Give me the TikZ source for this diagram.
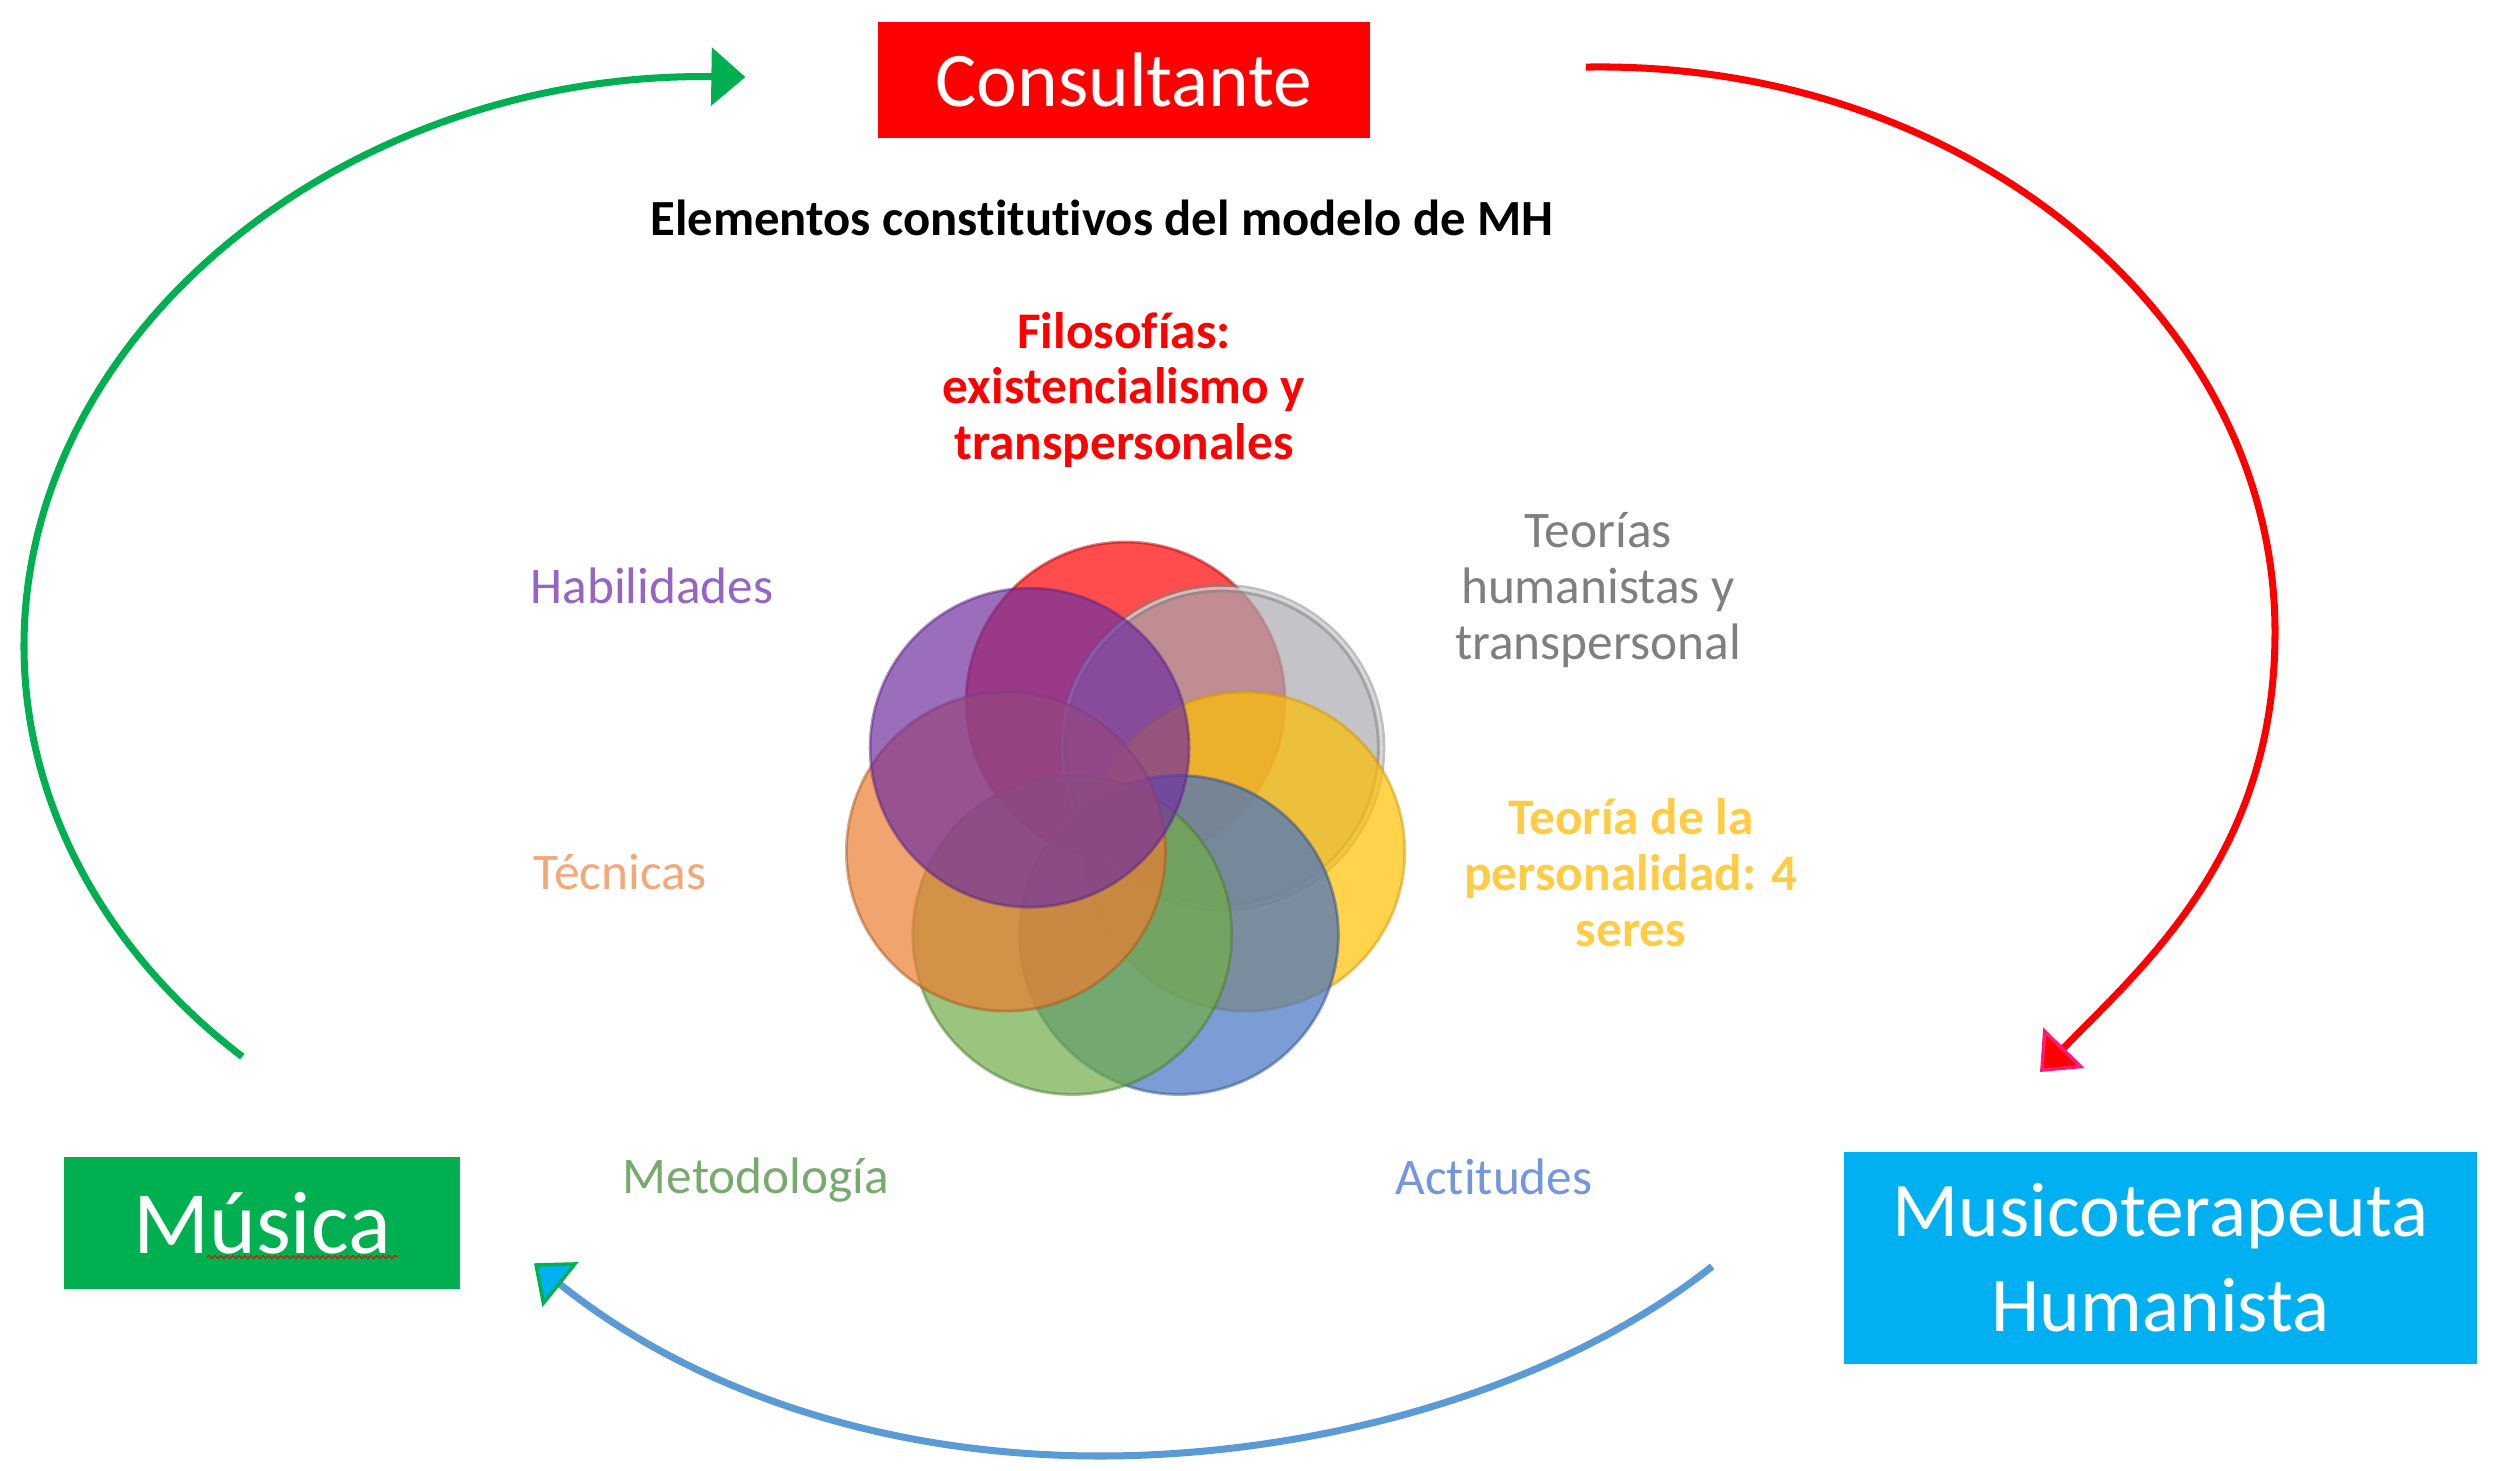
\documentclass[tikz,border=0pt]{standalone}
\usepackage{fontspec}
\setmainfont{Carlito}[Ligatures=NoCommon]
\usetikzlibrary{arrows.meta,decorations.pathmorphing}
\definecolor{cRed}{HTML}{FF0000}
\definecolor{cGreenBox}{HTML}{00B050}
\definecolor{cCyan}{HTML}{00B0F0}
\definecolor{cBlueLine}{HTML}{5B9BD5}
\definecolor{cPink}{HTML}{FF1A75}
\definecolor{dRed}{HTML}{FF0000}
\definecolor{dGray}{HTML}{A9A9B0}
\definecolor{dYellow}{HTML}{FFC000}
\definecolor{dBlue}{HTML}{4472C4}
\definecolor{dGreen}{HTML}{70AD47}
\definecolor{dOrange}{HTML}{ED7D31}
\definecolor{dPurple}{HTML}{7030A0}
\definecolor{tGray}{HTML}{7F7F7F}
\definecolor{tYellow}{HTML}{FFCC45}
\definecolor{tPurple}{HTML}{9565C5}
\definecolor{tOrange}{HTML}{F4A878}
\definecolor{tGreen}{HTML}{78AA6E}
\definecolor{tBlue}{HTML}{7396DC}
\tikzset{
  box/.style={rectangle, inner sep=0pt, text=white, align=center,
    font=\fontsize{22}{27}\selectfont},
  disc/.style={circle, inner sep=0pt, minimum size=3.188cm,
    fill opacity=0.7, draw opacity=0.5, line width=0.8pt},
  lbl/.style={inner sep=0pt, align=center, font=\fontsize{14.6}{15.9}\selectfont},
  conn/.style={line width=2pt},
}
\begin{document}
\begin{tikzpicture}[x=0.01cm,y=-0.01cm]
\useasboundingbox (0,0) rectangle (2500,1471);

% boxes
\node[box, fill=cRed, minimum width=4.92cm, minimum height=1.16cm] (cons) at (1124,80) {Consultante};
\node[box, fill=cGreenBox, minimum width=3.96cm, minimum height=1.31cm, font=\fontsize{25.3}{30}\selectfont] (musica) at (262,1223) {Música};
\node[box, fill=cCyan, minimum width=6.33cm, minimum height=2.11cm] (mth) at (2160.5,1258) {Musicoterapeuta\\Humanista};

% spell-check underline under "úsica"
\coordinate (uA) at (207,1257);
\coordinate (uB) at (397,1257);
\draw[red, line width=0.3pt, decorate, decoration={snake, amplitude=0.015cm, segment length=0.06cm}] (uA) -- (uB);

% title
\node[inner sep=0pt, anchor=base, font=\fontsize{14.4}{16}\selectfont\bfseries] (title) at (1102,236) {Elementos constitutivos del modelo de MH};

% rosette of circles
\node[disc, fill=dRed, draw=dRed!70!black] (cA) at (1125.6,701.5) {};
\node[disc, fill=dGray, draw=tGray, double=white, double distance=0.8pt] (cB) at (1221.6,747.7) {};
\node[disc, fill=dYellow, draw=dYellow!80!black] (cC) at (1245.3,851.6) {};
\node[disc, fill=dBlue, draw=dBlue!70!black] (cD) at (1178.9,935.0) {};
\node[disc, fill=dGreen, draw=dGreen!70!black] (cE) at (1072.3,935.0) {};
\node[disc, fill=dOrange, draw=dOrange!70!black] (cF) at (1005.9,851.6) {};
\node[disc, fill=dPurple, draw=dPurple!80!black] (cG) at (1029.6,747.7) {};

% labels
\node[lbl, text=cRed, font=\fontsize{14.6}{15.9}\selectfont\bfseries] (filo) at (1124,390) {Filosofías:\\existencialismo y\\transpersonales};
\node[lbl, text=tGray] (teor) at (1598,590) {Teorías\\humanistas y\\transpersonal};
\node[lbl, text=tYellow, font=\fontsize{14.6}{15.9}\selectfont\bfseries] (pers) at (1631,873) {Teoría de la\\personalidad: 4\\seres};
\node[lbl, text=tPurple, anchor=base] (habi) at (652,604) {Habilidades};
\node[lbl, text=tOrange, anchor=base] (tecn) at (620,890) {Técnicas};
\node[lbl, text=tGreen, anchor=base] (meto) at (756,1193) {Metodología};
\node[lbl, text=tBlue, anchor=base] (acti) at (1494,1195) {Actitudes};

% cycle arrows
\coordinate (gS) at (242.3,1056.7);
\coordinate (gL) at (24,646);
\coordinate (gT) at (745.4,77.1);
\draw[conn, cGreenBox, -{Triangle[length=0.34cm,width=0.57cm]}]
  (gS) .. controls (102.5,949.7) and (24,801) .. (gL)
       .. controls (24,328) and (349,71.5) .. (gT);

\coordinate (rS) at (1585.9,67.1);
\coordinate (rR) at (2275,632);
\coordinate (rE) at (2040,1072);
\draw[conn, cRed, -{Triangle[length=0.34cm,width=0.57cm,fill=cRed,color=cPink,line width=1pt]}]
  (rS) .. controls (1964.2,60.5) and (2275,315.3) .. (rR)
       .. controls (2275,850) and (2150,960) .. (rE);

\coordinate (bS) at (1712.1,1266.4);
\coordinate (bB) at (1100,1456);
\coordinate (bE) at (534,1263.3);
\draw[conn, cBlueLine, -{Triangle[length=0.34cm,width=0.57cm,fill=cCyan,color=cGreenBox,line width=1pt]}]
  (bS) .. controls (1559.5,1387.4) and (1322,1456) .. (bB)
       .. controls (876,1456) and (686.8,1386.2) .. (bE);
\end{tikzpicture}
\end{document}
